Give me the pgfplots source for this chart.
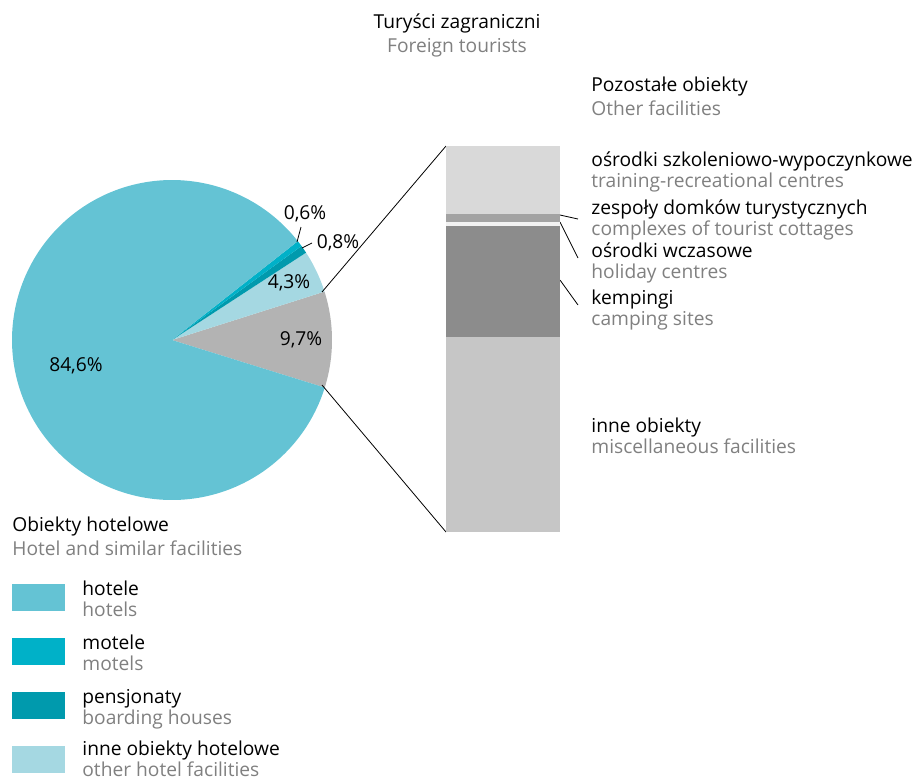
\documentclass[border=0pt]{standalone}
\usepackage{pgfplots}
\pgfplotsset{compat=1.18}
\usepackage{fontspec}
\setmainfont{Open Sans}

\definecolor{hot}{HTML}{64C3D4}
\definecolor{mot}{HTML}{00B1C8}
\definecolor{pen}{HTML}{009AAD}
\definecolor{inh}{HTML}{A5D8E2}
\definecolor{poz}{HTML}{B3B3B3}
\definecolor{osz}{HTML}{D9D9D9}
\definecolor{zes}{HTML}{A3A3A3}
\definecolor{wcz}{HTML}{F2F2F2}
\definecolor{kem}{HTML}{8C8C8C}
\definecolor{inn}{HTML}{C6C6C6}
\definecolor{sub}{HTML}{808080}

% pie: centre (172,340), radius 160 px, first slice starts at -17.3 deg
\def\pieoff{-17.3}
\newcommand\slice[4]{% start pct, pct, colour, samples
  \addplot[fill=#3, draw=none, domain={\pieoff+3.6*#1}:{\pieoff+3.6*(#1+#2)}, samples=#4]
    ({172+160*cos(x)},{340-160*sin(x)}) -- (axis cs:172,340) -- cycle;}

\newcommand\lab[4]{% x, baseline, black text, grey text
  \node[anchor=base west, inner sep=0pt] at (axis cs:#1,#2) {#3};
  \node[anchor=base west, inner sep=0pt, text=sub] at (axis cs:#1,#2+21) {#4};}

\begin{document}
\begin{tikzpicture}[font=\fontsize{9.6}{11}\selectfont]
\begin{axis}[
  name=main, at={(0,0)}, anchor=south west,
  scale only axis, width=459.5pt, height=389pt,
  xmin=0, xmax=919, ymin=0, ymax=778, y dir=reverse,
  hide axis, clip=false]

  \slice{0}{9.7}{poz}{30}
  \slice{9.7}{4.3}{inh}{20}
  \slice{14}{0.8}{pen}{5}
  \slice{14.8}{0.6}{mot}{5}
  \slice{15.4}{84.6}{hot}{200}

  % connectors to the bar
  \addplot[black, line width=0.4pt] coordinates {(322,292) (446,146)};
  \addplot[black, line width=0.4pt] coordinates {(322,385) (446,532)};
  % leaders
  \addplot[black, line width=0.4pt] coordinates {(297,242) (301,227)};
  \addplot[black, line width=0.4pt] coordinates {(302,248) (312,243)};
  \addplot[black, line width=0.4pt] coordinates {(560,215) (578,219)};
  \addplot[black, line width=0.4pt] coordinates {(560,222) (578,258)};
  \addplot[black, line width=0.4pt] coordinates {(560,280) (578,305)};

  \node at (axis cs:76,366) {84,6\%};
  \node at (axis cs:301,340) {9,7\%};
  \node at (axis cs:289,283) {4,3\%};
  \node at (axis cs:305,214) {0,6\%};
  \node at (axis cs:338,243) {0,8\%};

  \node at (axis cs:503,180) {1,7\%};
  \node at (axis cs:503,211) {0,2\%};
  \node at (axis cs:503,231) {0,1\%};
  \node at (axis cs:503,278) {2,8\%};
  \node at (axis cs:503,436) {4,9\%};

  \node[anchor=base, inner sep=0pt] at (axis cs:457,28) {Turyści zagraniczni};
  \node[anchor=base, inner sep=0pt, text=sub] at (axis cs:457,52) {Foreign tourists};

  \node[anchor=base west, inner sep=0pt] at (axis cs:591,91) {Pozostałe obiekty};
  \node[anchor=base west, inner sep=0pt, text=sub] at (axis cs:591,115) {Other facilities};
  \lab{591}{166}{ośrodki szkoleniowo-wypoczynkowe}{training-recreational centres}
  \lab{591}{214}{zespoły domków turystycznych}{complexes of tourist cottages}
  \lab{591}{257}{ośrodki wczasowe}{holiday centres}
  \lab{591}{304}{kempingi}{camping sites}
  \lab{591}{432}{inne obiekty}{miscellaneous facilities}

  \node[anchor=base west, inner sep=0pt] at (axis cs:12,531) {Obiekty hotelowe};
  \node[anchor=base west, inner sep=0pt, text=sub] at (axis cs:12,555) {Hotel and similar facilities};

  \fill[hot] (axis cs:12,584) rectangle (axis cs:65,611);
  \fill[mot] (axis cs:12,638) rectangle (axis cs:65,665);
  \fill[pen] (axis cs:12,692) rectangle (axis cs:65,719);
  \fill[inh] (axis cs:12,746) rectangle (axis cs:65,773);
  \lab{82}{595}{hotele}{hotels}
  \lab{82}{649}{motele}{motels}
  \lab{82}{703}{pensjonaty}{boarding houses}
  \lab{82}{755}{inne obiekty hotelowe}{other hotel facilities}
\end{axis}

\begin{axis}[
  at={(223pt,123pt)}, anchor=south west,
  scale only axis, width=57pt, height=193pt,
  xmin=-0.5, xmax=0.5, ymin=0, ymax=9.7,
  ybar stacked, bar width=57pt, hide axis, clip=false]
  \addplot[fill=inn, draw=none] coordinates {(0,4.9)};
  \addplot[fill=kem, draw=none] coordinates {(0,2.8)};
  \addplot[fill=wcz, draw=none] coordinates {(0,0.1)};
  \addplot[fill=zes, draw=none] coordinates {(0,0.2)};
  \addplot[fill=osz, draw=none] coordinates {(0,1.7)};
\end{axis}
\pgfresetboundingbox
\path[use as bounding box] (0,-2.5pt) rectangle (459.5pt,389pt);
\end{tikzpicture}
\end{document}
